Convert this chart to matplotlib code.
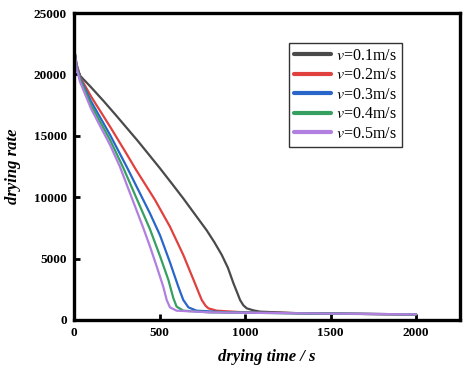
import matplotlib
matplotlib.use("Agg")
import matplotlib.pyplot as plt

# drying time (s) / drying rate
t_01 = [0, 15, 35, 100, 175, 250, 375, 500, 570, 639, 710, 776, 820, 864, 900, 932, 955, 971, 990,
        1010, 1050, 1088, 1300, 1600, 2000]
r_01 = [22200, 20800, 19900, 18950, 17800, 16600, 14550, 12400, 11150, 9900, 8550, 7300, 6350, 5300,
        4250, 3000, 2200, 1630, 1200, 950, 780, 680, 560, 500, 450]

t_02 = [0, 15, 35, 100, 211, 300, 362, 474, 561, 639, 698, 730, 747, 770, 786, 834, 1000, 1500, 2000]
r_02 = [22200, 20800, 19800, 18200, 15740, 13700, 12250, 9770, 7600, 5300, 3300, 2200, 1630, 1150,
        950, 760, 620, 520, 460]

t_03 = [0, 15, 35, 100, 211, 311, 444, 503, 561, 610, 639, 669, 717, 900, 1500, 2000]
r_03 = [22200, 20700, 19700, 17800, 15070, 12400, 8690, 6900, 4700, 2710, 1630, 1030, 760, 620, 520, 460]

t_04 = [0, 15, 35, 100, 211, 288, 444, 503, 552, 581, 600, 639, 800, 1500, 2000]
r_04 = [22200, 20600, 19600, 17500, 14660, 12400, 7400, 5200, 3260, 1770, 1090, 760, 620, 520, 460]

t_05 = [0, 15, 35, 100, 211, 268, 405, 444, 484, 522, 542, 561, 600, 800, 1500, 2000]
r_05 = [22200, 20500, 19400, 17200, 14250, 12500, 7500, 6000, 4340, 2710, 1630, 1030, 760, 620, 520, 460]

labels = ["$v$=0.1m/s", "$v$=0.2m/s", "$v$=0.3m/s", "$v$=0.4m/s", "$v$=0.5m/s"]
colors = ["#4a4a4a", "#e0413f", "#2867c9", "#36a060", "#b07fe0"]

plt.rcParams["font.family"] = ["Liberation Serif", "DejaVu Serif"]
plt.rcParams["mathtext.fontset"] = "stix"

fig = plt.figure(figsize=(4.66, 3.70), dpi=100)
ax = fig.add_axes([74 / 466, 1 - 320 / 370, (460 - 74) / 466, (320 - 13) / 370])

series = [(t_01, r_01), (t_02, r_02), (t_03, r_03), (t_04, r_04), (t_05, r_05)]
for (t, r), lab, c in zip(series, labels, colors):
    ax.plot(t, r, color=c, lw=1.6, label=lab, solid_capstyle="round", solid_joinstyle="round")

ax.set_xlim(0, 2257)
ax.set_ylim(0, 25000)
ax.set_xticks([0, 500, 1000, 1500, 2000])
ax.set_yticks([0, 5000, 10000, 15000, 20000, 25000])
ax.tick_params(direction="in", length=4, width=2, labelsize=9.5, pad=5)
for lab in ax.get_xticklabels() + ax.get_yticklabels():
    lab.set_fontweight("bold")
for sp in ax.spines.values():
    sp.set_linewidth(2.4)

ax.set_xlabel("drying time / s", fontsize=12, fontstyle="italic", fontweight="bold", labelpad=7)
ax.set_ylabel("drying rate", fontsize=12, fontstyle="italic", fontweight="bold", labelpad=9)

leg = ax.legend(loc="upper left", bbox_to_anchor=(289 / 466, 1 - 43 / 370),
                bbox_transform=fig.transFigure, fontsize=11.5, frameon=True,
                fancybox=False, edgecolor="black", handlelength=2.3,
                handletextpad=0.35, labelspacing=0.22, borderpad=0.3,
                borderaxespad=0)
leg.get_frame().set_linewidth(1.0)
for line in leg.get_lines():
    line.set_linewidth(3)

fig.savefig("out.png", dpi=100)
